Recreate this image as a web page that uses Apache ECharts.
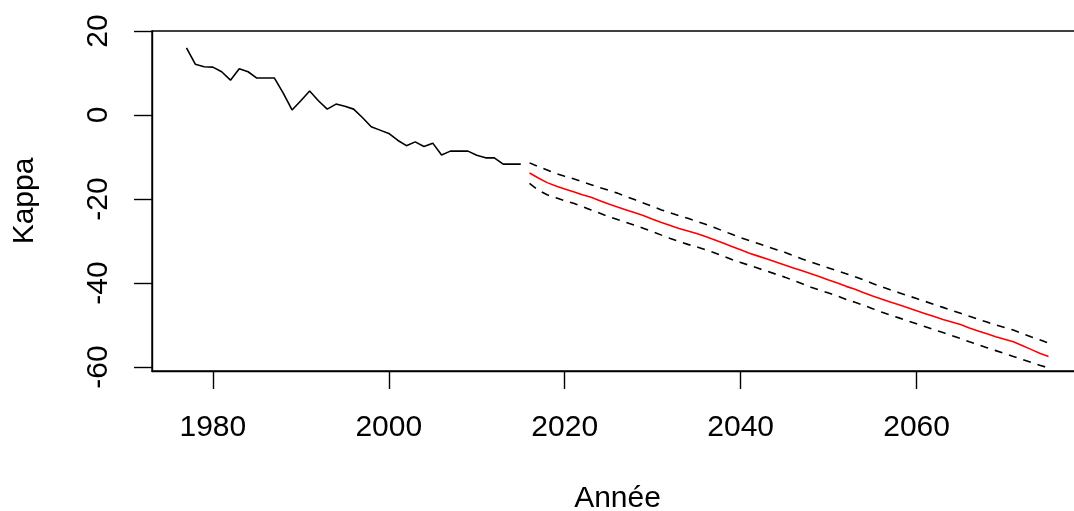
<!DOCTYPE html>
<html>
<head>
<meta charset="utf-8">
<script src="https://cdn.jsdelivr.net/npm/echarts@6/dist/echarts.min.js"></script>
<style>
html,body{margin:0;padding:0;background:#fff;}
#c{width:1074px;height:511px;}
</style>
</head>
<body>
<div id="c"></div>
<script>
// Historical kappa (1977-2015)
var histStart = 1977;
var histKappa = [16.0, 12.1, 11.5, 11.4, 10.3, 8.3, 11.0, 10.3, 8.8, 8.8,
  8.8, 5.2, 1.2, 3.4, 5.7, 3.4, 1.4, 2.6, 2.1, 1.4,
  -0.6, -2.8, -3.6, -4.4, -6.0, -7.3, -6.4, -7.5, -6.7, -9.5,
  -8.6, -8.6, -8.6, -9.6, -10.2, -10.2, -11.7, -11.7, -11.7];

// Forecast (2016-2075)
var fcStart = 2016;
var fcMean = [-13.8, -15.0, -16.1, -16.9, -17.6, -18.3, -19.0, -19.6, -20.4, -21.2,
  -21.9, -22.6, -23.3, -24.0, -24.8, -25.6, -26.3, -27.0, -27.6, -28.2,
  -28.9, -29.7, -30.5, -31.3, -32.1, -32.9, -33.6, -34.3, -35.0, -35.7,
  -36.4, -37.1, -37.8, -38.5, -39.3, -40.0, -40.8, -41.5, -42.3, -43.1,
  -43.8, -44.5, -45.2, -45.9, -46.6, -47.3, -48.0, -48.7, -49.3, -49.9,
  -50.7, -51.4, -52.1, -52.8, -53.4, -54.0, -54.9, -55.8, -56.7, -57.5];
var fcUpper = [-11.4, -12.3, -13.1, -13.9, -14.6, -15.2, -15.9, -16.6, -17.3, -17.9,
  -18.6, -19.4, -20.2, -21.0, -21.8, -22.6, -23.3, -24.0, -24.6, -25.3,
  -26.0, -26.8, -27.6, -28.4, -29.2, -29.9, -30.6, -31.3, -32.0, -32.7,
  -33.5, -34.3, -35.0, -35.7, -36.4, -37.1, -37.8, -38.5, -39.3, -40.1,
  -40.9, -41.6, -42.3, -43.0, -43.7, -44.4, -45.1, -45.8, -46.5, -47.2,
  -47.9, -48.6, -49.3, -50.0, -50.6, -51.2, -52.0, -52.8, -53.5, -54.3];
var fcLower = [-16.3, -17.9, -19.0, -19.7, -20.4, -21.0, -21.8, -22.6, -23.4, -24.2,
  -24.9, -25.6, -26.3, -27.0, -27.8, -28.6, -29.4, -30.1, -30.8, -31.4,
  -32.1, -32.8, -33.6, -34.4, -35.1, -35.8, -36.5, -37.2, -37.9, -38.6,
  -39.4, -40.2, -41.0, -41.7, -42.4, -43.1, -43.9, -44.6, -45.3, -46.1,
  -46.9, -47.6, -48.3, -49.0, -49.7, -50.4, -51.1, -51.8, -52.5, -53.2,
  -54.0, -54.7, -55.4, -56.1, -56.8, -57.5, -58.2, -58.9, -59.6, -60.2];

var xTicks = [1980, 2000, 2020, 2040, 2060];
var yTicks = [-60, -40, -20, 0, 20];

function pairs(start, vals) {
  return vals.map(function (v, i) { return [start + i, v]; });
}

var FONT = "'Liberation Sans', Arial, sans-serif";
var chart = echarts.init(document.getElementById('c'), null, {renderer: 'canvas'});
chart.setOption({
  animation: false,
  backgroundColor: '#ffffff',
  grid: {left: 152, top: 31, right: -9, bottom: 140, show: true, borderColor: '#000', borderWidth: 1.4, containLabel: false, outerBoundsMode: 'none'},
  xAxis: {
    type: 'value', min: 1973.08, max: 2078.92,
    name: 'Année', nameLocation: 'middle', nameGap: 113,
    nameTextStyle: {fontFamily: FONT, fontSize: 30, color: '#000'},
    axisLine: {show: true, onZero: false, lineStyle: {color: '#000', width: 1.4}},
    axisTick: {show: true, length: 18, lineStyle: {color: '#000', width: 1.4}, customValues: xTicks},
    axisLabel: {fontFamily: FONT, fontSize: 30, color: '#000', margin: 42, customValues: xTicks,
      formatter: function (v) { return String(v); }},
    splitLine: {show: false}
  },
  yAxis: {
    type: 'value', min: -60.95, max: 20,
    name: 'Kappa', nameLocation: 'middle', nameGap: 112, nameRotate: 90,
    nameTextStyle: {fontFamily: FONT, fontSize: 30, color: '#000'},
    axisLine: {show: true, onZero: false, lineStyle: {color: '#000', width: 1.4}},
    axisTick: {show: true, length: 18, lineStyle: {color: '#000', width: 1.4}, customValues: yTicks},
    axisLabel: {fontFamily: FONT, fontSize: 30, color: '#000', margin: 38, rotate: 90, customValues: yTicks,
      formatter: function (v) { return String(v); }},
    splitLine: {show: false}
  },
  series: [
    {type: 'line', data: pairs(histStart, histKappa), symbol: 'none', lineStyle: {color: '#000', width: 1.6}},
    {type: 'line', data: pairs(fcStart, fcMean), symbol: 'none', lineStyle: {color: '#ff0000', width: 1.6}},
    {type: 'line', data: pairs(fcStart, fcUpper), symbol: 'none', lineStyle: {color: '#000', width: 1.6, type: [8, 7]}},
    {type: 'line', data: pairs(fcStart, fcLower), symbol: 'none', lineStyle: {color: '#000', width: 1.6, type: [8, 7]}}
  ]
});
</script>
</body>
</html>
